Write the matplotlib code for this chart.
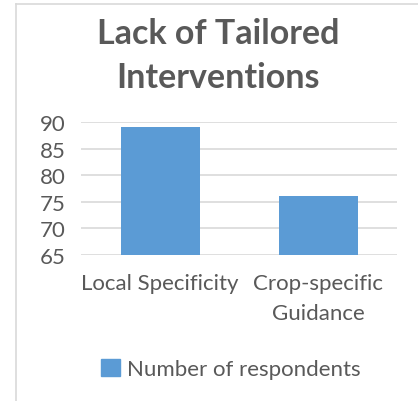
import matplotlib
matplotlib.use("Agg")
import matplotlib.pyplot as plt
from matplotlib.lines import Line2D
from matplotlib.patches import Patch

categories = ["Local Specificity", "Crop-specific\nGuidance"]
respondents = [89, 76]
yticks = [65, 70, 75, 80, 85, 90]
series_name = "Number of respondents"
title = "Lack of Tailored\nInterventions"

TEXT = "#595959"
BAR = "#5b9bd5"
GRID = "#d9d9d9"
FONT = ["Lato", "DejaVu Sans"]

plt.rcParams["font.family"] = FONT

W, H = 418, 402
fig = plt.figure(figsize=(W / 100, H / 100), dpi=100)
fig.patch.set_facecolor("white")

# chart frame (top and left edges)
fig.add_artist(Line2D([16 / W, 1.0], [1 - 5 / H, 1 - 5 / H], color="#d9d9d9", lw=1.2))
fig.add_artist(Line2D([16 / W, 16 / W], [0, 1 - 5 / H], color="#d9d9d9", lw=1.2))

ax = fig.add_axes([81 / W, 1 - 256 / H, (397 - 81) / W, (256 - 123) / H])
x = list(range(len(categories)))
ax.bar(x, respondents, width=0.5, color=BAR, zorder=3)
ax.set_xlim(-0.5, len(categories) - 0.5)
ax.set_ylim(yticks[0], yticks[-1])
ax.set_yticks(yticks)
ax.set_xticks(x)
ax.set_xticklabels(categories, linespacing=1.6)
ax.yaxis.grid(True, color=GRID, lw=1.2, zorder=0)
ax.set_axisbelow(True)
for s in ax.spines.values():
    s.set_visible(False)
ax.tick_params(axis="both", length=0, colors=TEXT, labelsize=16)
ax.tick_params(axis="x", pad=13)
ax.tick_params(axis="y", pad=11)

fig.text(218 / W, 1 - 56 / H, title, ha="center", va="center", fontsize=24.5,
         fontweight="bold", color=TEXT, linespacing=1.5)

handle = Patch(facecolor=BAR, edgecolor=BAR)
fig.legend([handle], [series_name], loc="center", bbox_to_anchor=(231 / W, 1 - 370 / H),
           frameon=False, fontsize=16, labelcolor=TEXT, handlelength=0.85,
           handleheight=0.85, handletextpad=0.3)

fig.savefig("out.png", dpi=100, facecolor="white")
